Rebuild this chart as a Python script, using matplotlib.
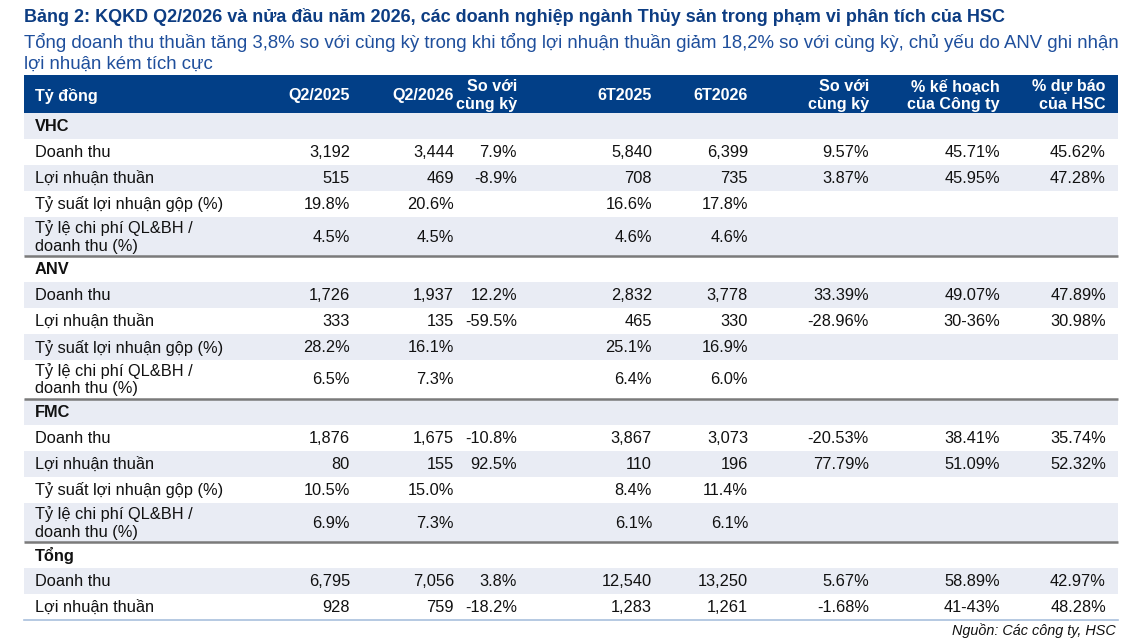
import matplotlib
matplotlib.use("Agg")
from matplotlib import pyplot as plt
from matplotlib.patches import Rectangle

plt.rcParams['font.family'] = ['Liberation Sans', 'DejaVu Sans']

title = "Bảng 2: KQKD Q2/2026 và nửa đầu năm 2026, các doanh nghiệp ngành Thủy sản trong phạm vi phân tích của HSC"
subtitle = ["Tổng doanh thu thuần tăng 3,8% so với cùng kỳ trong khi tổng lợi nhuận thuần giảm 18,2% so với cùng kỳ, chủ yếu do ANV ghi nhận",
            "lợi nhuận kém tích cực"]
source = "Nguồn: Các công ty, HSC"

headers = ["Tỷ đồng", "Q2/2025", "Q2/2026", "So với\ncùng kỳ", "6T2025", "6T2026",
           "So với\ncùng kỳ", "% kế hoạch\ncủa Công ty", "% dự báo\ncủa HSC"]

companies = ["VHC", "ANV", "FMC", "Tổng"]
row_labels = ["Doanh thu", "Lợi nhuận thuần", "Tỷ suất lợi nhuận gộp (%)",
              "Tỷ lệ chi phí QL&BH /\ndoanh thu (%)"]

# one list per column, rows in order: VHC x4, ANV x4, FMC x4, Tong x2
q2_2025 = ["3,192", "515", "19.8%", "4.5%",
           "1,726", "333", "28.2%", "6.5%",
           "1,876", "80", "10.5%", "6.9%",
           "6,795", "928"]
q2_2026 = ["3,444", "469", "20.6%", "4.5%",
           "1,937", "135", "16.1%", "7.3%",
           "1,675", "155", "15.0%", "7.3%",
           "7,056", "759"]
yoy_q2 = ["7.9%", "-8.9%", "", "",
          "12.2%", "-59.5%", "", "",
          "-10.8%", "92.5%", "", "",
          "3.8%", "-18.2%"]
h1_2025 = ["5,840", "708", "16.6%", "4.6%",
           "2,832", "465", "25.1%", "6.4%",
           "3,867", "110", "8.4%", "6.1%",
           "12,540", "1,283"]
h1_2026 = ["6,399", "735", "17.8%", "4.6%",
           "3,778", "330", "16.9%", "6.0%",
           "3,073", "196", "11.4%", "6.1%",
           "13,250", "1,261"]
yoy_h1 = ["9.57%", "3.87%", "", "",
          "33.39%", "-28.96%", "", "",
          "-20.53%", "77.79%", "", "",
          "5.67%", "-1.68%"]
pct_plan = ["45.71%", "45.95%", "", "",
            "49.07%", "30-36%", "", "",
            "38.41%", "51.09%", "", "",
            "58.89%", "41-43%"]
pct_hsc = ["45.62%", "47.28%", "", "",
           "47.89%", "30.98%", "", "",
           "35.74%", "52.32%", "", "",
           "42.97%", "48.28%"]
columns = [q2_2025, q2_2026, yoy_q2, h1_2025, h1_2026, yoy_h1, pct_plan, pct_hsc]

navy = "#023f87"
shade = "#e9ecf4"
txt = "#111111"
fs = 11.8

col_right = [350, 454, 517, 652, 748, 869, 1000, 1106]
x_left, x_right = 24, 1118
label_x = 35


def lines(x, yc, s, gap, **kw):
    # draw multi-line text one line at a time so spacing is exact
    parts = s.split("\n")
    y0 = yc - gap * (len(parts) - 1) / 2
    for i, p in enumerate(parts):
        ax.text(x, y0 + i * gap, p, va='center', **kw)


fig = plt.figure(figsize=(11.3, 6.43), dpi=100)
ax = fig.add_axes([0, 0, 1, 1])
ax.set_xlim(0, 1130)
ax.set_ylim(643, 0)
ax.axis('off')

ax.text(x_left, 17, title, fontsize=12.95, fontweight='bold', color="#0d3d83", va='center')
ax.text(x_left, 43, subtitle[0], fontsize=13.4, color="#1f4f9c", va='center')
ax.text(x_left, 64, subtitle[1], fontsize=13.4, color="#1f4f9c", va='center')

# header band
ax.add_patch(Rectangle((x_left, 75), x_right - x_left, 38, color=navy, lw=0))
ax.text(label_x, 95.5, headers[0], fontsize=11.6, fontweight='bold', color='white', va='center')
for h, xr in zip(headers[1:], col_right):
    lines(xr, 95.5, h, 18.5, fontsize=11.6, fontweight='bold', color='white', ha='right')

y = 113
k = 0
idx = 0
for g, comp in enumerate(companies):
    if g > 0:
        ax.plot([x_left, x_right], [y, y], color="#7a7a7a", lw=1.8, solid_capstyle='butt')
    if k % 2 == 0:
        ax.add_patch(Rectangle((x_left, y), x_right - x_left, 26, color=shade, lw=0))
    ax.text(label_x, y + 13.5, comp, fontsize=fs, fontweight='bold', color=txt, va='center')
    y += 26
    k += 1
    n_rows = 2 if comp == "Tổng" else 4
    for r in range(n_rows):
        hgt = 39 if r == 3 else 26
        if k % 2 == 0:
            ax.add_patch(Rectangle((x_left, y), x_right - x_left, hgt, color=shade, lw=0))
        yc = y + hgt / 2 + 0.5
        lines(label_x, yc, row_labels[r], 18, fontsize=fs, color=txt)
        for col, xr in zip(columns, col_right):
            if col[idx]:
                ax.text(xr, yc, col[idx], fontsize=fs, color=txt, va='center', ha='right')
        y += hgt
        k += 1
        idx += 1

ax.plot([x_left, x_right], [y, y], color="#a9c0dd", lw=1.2)
ax.text(1116, 631, source, fontsize=10.4, style='italic', color=txt, va='center', ha='right')

fig.savefig("out.png", dpi=100)
